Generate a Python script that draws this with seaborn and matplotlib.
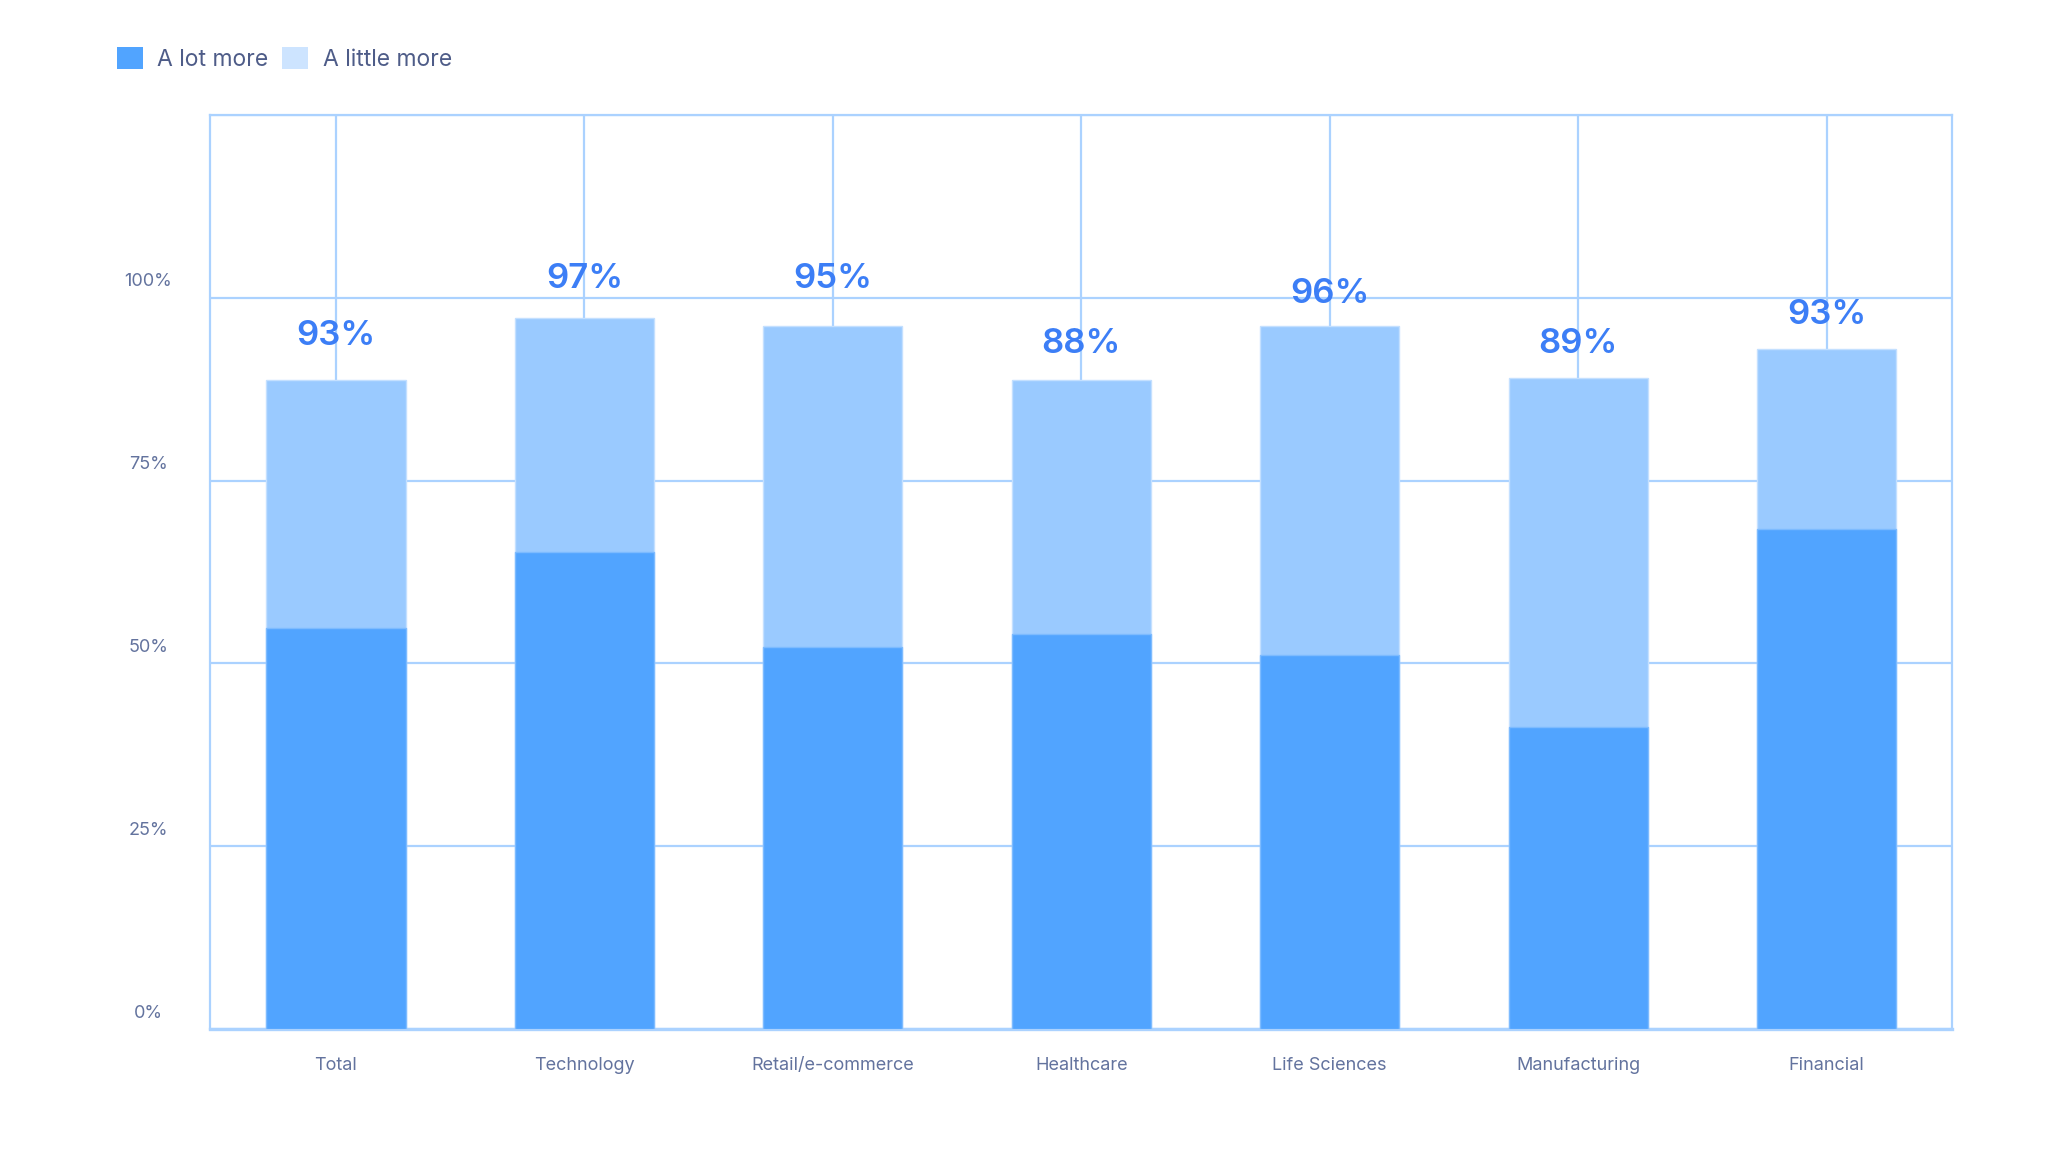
import matplotlib
matplotlib.use("Agg")
import matplotlib.pyplot as plt
import seaborn as sns
import pandas as pd
from matplotlib.patches import Patch

categories = ["Total", "Technology", "Retail/e-commerce", "Healthcare",
              "Life Sciences", "Manufacturing", "Financial"]
a_lot_more = [54.8, 65.2, 52.2, 54.0, 51.1, 41.3, 68.4]
a_little_more = [34.0, 32.0, 43.9, 34.8, 45.0, 47.7, 24.6]
total_labels = ["93%", "97%", "95%", "88%", "96%", "89%", "93%"]
label_y = [94.8, 102.6, 102.6, 93.7, 100.5, 93.7, 97.6]
y_ticks = [0, 25, 50, 75, 100]
y_tick_labels = ["0%", "25%", "50%", "75%", "100%"]

df = pd.DataFrame({"category": categories, "a_lot": a_lot_more, "a_little": a_little_more})
df["total"] = df["a_lot"] + df["a_little"]

sns.set_theme(style="white")
plt.rcParams["font.family"] = ["Inter", "DejaVu Sans"]

DARK = "#51A4FF"
LIGHT = "#9ACAFF"
LEGEND_LIGHT = "#CDE4FF"
GRID = "#ABD2FF"
TEXT = "#63739E"
LABEL = "#3C7EF6"

fig = plt.figure(figsize=(20.48, 11.52), dpi=100)
ax = fig.add_axes([210/2048, 1-1029/1152, (1952-210)/2048, (1029-115)/1152])

sns.barplot(data=df, x="category", y="total", color=LIGHT, width=0.56,
            saturation=1, ax=ax, zorder=3, edgecolor="#C4E0FF", linewidth=1)
sns.barplot(data=df, x="category", y="a_lot", color=DARK, width=0.56,
            saturation=1, ax=ax, zorder=4, edgecolor="#7DBBFF", linewidth=1)

ax.set_xlim(-0.507, 6.505)
ax.set_ylim(0, 125)
ax.set_yticks([0, 25, 50, 75, 100, 125])
ax.set_yticklabels([])
ax.tick_params(axis="y", length=0)
ax.tick_params(axis="x", length=0, pad=20, labelsize=13, labelcolor=TEXT)
ax.set_xlabel("")
ax.set_ylabel("")
ax.grid(True, color=GRID, linewidth=1.6, zorder=0)
ax.set_axisbelow(True)
for s in ax.spines.values():
    s.set_visible(True)
    s.set_color(GRID)
    s.set_linewidth(1.6)
ax.spines["bottom"].set_linewidth(2.4)

for i, (lab, yv) in enumerate(zip(total_labels, label_y)):
    ax.text(i, yv, lab, ha="center", va="center", fontsize=25,
            fontweight="semibold", color=LABEL, zorder=6)

for v, lab in zip(y_ticks, y_tick_labels):
    ax.annotate(lab, xy=(-62/1742, v), xycoords=ax.get_yaxis_transform(),
                xytext=(0, 16), textcoords="offset pixels",
                ha="center", va="center", fontsize=13, color=TEXT)

handles = [Patch(facecolor=DARK, edgecolor="none"),
           Patch(facecolor=LEGEND_LIGHT, edgecolor="none")]
fig.legend(handles, ["A lot more", "A little more"], loc="center left",
           bbox_to_anchor=(0.047, 1-59/1152), ncol=2, frameon=False,
           fontsize=16.5, handlelength=1.12, handleheight=1.12,
           handletextpad=0.65, columnspacing=0.6, labelcolor="#4E5C88")

fig.savefig("out.png", dpi=100)
